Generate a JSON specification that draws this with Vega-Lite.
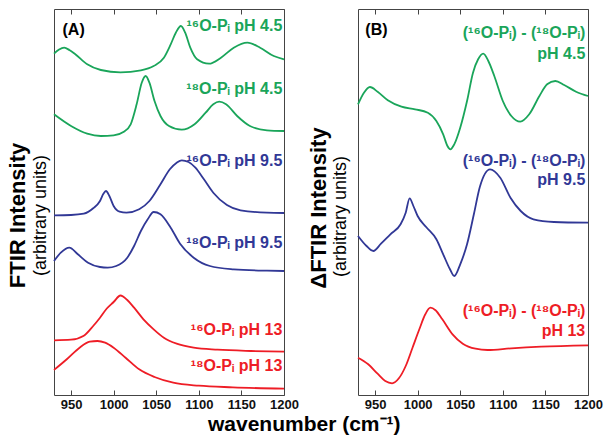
{
  "$schema": "https://vega.github.io/schema/vega-lite/v6.json",
  "padding": {"left": 5, "top": 8, "right": 5, "bottom": 5},
  "config": {
    "view": {"stroke": "#444", "strokeWidth": 1},
    "font": "Liberation Sans",
    "axis": {"grid": false, "labelFlush": false}
  },
  "title": {"text": "wavenumber (cm⁻¹)", "orient": "bottom", "anchor": "middle", "fontSize": 21, "fontWeight": "bold", "font": "Liberation Sans", "color": "#000", "offset": 2},
  "bounds": "flush",
  "spacing": 74,
  "datasets": {
    "curvesA": [
      {"s":"g16","x":930,"y":341.3},{"s":"g16","x":936,"y":345.5},{"s":"g16","x":942,"y":347.3},{"s":"g16","x":948,"y":345},{"s":"g16","x":955,"y":340.7},{"s":"g16","x":969,"y":330.7},{"s":"g16","x":985,"y":325},{"s":"g16","x":1008,"y":322.7},{"s":"g16","x":1032,"y":324.7},{"s":"g16","x":1047,"y":329},{"s":"g16","x":1059,"y":337.3},{"s":"g16","x":1067,"y":350.7},{"s":"g16","x":1073,"y":362.3},{"s":"g16","x":1079,"y":369},{"s":"g16","x":1084,"y":362.3},{"s":"g16","x":1090,"y":347.3},{"s":"g16","x":1098,"y":335.7},{"s":"g16","x":1112,"y":331.3},{"s":"g16","x":1126,"y":337.3},{"s":"g16","x":1141,"y":347.3},{"s":"g16","x":1157,"y":352.3},{"s":"g16","x":1172,"y":347.3},{"s":"g16","x":1188,"y":339},{"s":"g16","x":1200,"y":335.7},
      {"s":"g18","x":930,"y":280.7},{"s":"g18","x":950,"y":269},{"s":"g18","x":969,"y":261.3},{"s":"g18","x":985,"y":259},{"s":"g18","x":1000,"y":259.7},{"s":"g18","x":1012,"y":263.3},{"s":"g18","x":1020,"y":270.7},{"s":"g18","x":1027,"y":290.7},{"s":"g18","x":1033,"y":312.3},{"s":"g18","x":1037.6,"y":319},{"s":"g18","x":1042,"y":312.3},{"s":"g18","x":1048,"y":294},{"s":"g18","x":1055,"y":279},{"s":"g18","x":1065,"y":269},{"s":"g18","x":1080,"y":265.3},{"s":"g18","x":1095,"y":270.7},{"s":"g18","x":1108,"y":282.3},{"s":"g18","x":1117,"y":290.7},{"s":"g18","x":1124,"y":293.3},{"s":"g18","x":1132,"y":290.7},{"s":"g18","x":1145,"y":279},{"s":"g18","x":1160,"y":269},{"s":"g18","x":1180,"y":264.7},{"s":"g18","x":1200,"y":264},
      {"s":"b16","x":930,"y":179.7},{"s":"b16","x":950,"y":180},{"s":"b16","x":965,"y":181.3},{"s":"b16","x":976,"y":186.7},{"s":"b16","x":984,"y":194},{"s":"b16","x":988,"y":201.3},{"s":"b16","x":991,"y":204},{"s":"b16","x":995,"y":199},{"s":"b16","x":1000,"y":189},{"s":"b16","x":1007,"y":183.3},{"s":"b16","x":1015,"y":182.3},{"s":"b16","x":1030,"y":185.7},{"s":"b16","x":1042,"y":194},{"s":"b16","x":1055,"y":210.7},{"s":"b16","x":1066,"y":225.7},{"s":"b16","x":1074,"y":232.3},{"s":"b16","x":1080,"y":234.7},{"s":"b16","x":1088,"y":233},{"s":"b16","x":1096,"y":227.3},{"s":"b16","x":1106,"y":215.7},{"s":"b16","x":1117,"y":202.3},{"s":"b16","x":1133,"y":190},{"s":"b16","x":1149,"y":184.7},{"s":"b16","x":1180,"y":182.3},{"s":"b16","x":1200,"y":182},
      {"s":"b18","x":930,"y":134},{"s":"b18","x":938,"y":142.3},{"s":"b18","x":948,"y":147.3},{"s":"b18","x":958,"y":140.7},{"s":"b18","x":970,"y":132.3},{"s":"b18","x":984,"y":128},{"s":"b18","x":993,"y":127.3},{"s":"b18","x":1003,"y":129},{"s":"b18","x":1016,"y":137.3},{"s":"b18","x":1024,"y":149},{"s":"b18","x":1032,"y":164},{"s":"b18","x":1040,"y":175.7},{"s":"b18","x":1047,"y":183},{"s":"b18","x":1055,"y":180.7},{"s":"b18","x":1067,"y":167.3},{"s":"b18","x":1078,"y":151.3},{"s":"b18","x":1094,"y":137.3},{"s":"b18","x":1113,"y":129},{"s":"b18","x":1141,"y":125.7},{"s":"b18","x":1180,"y":124.3},{"s":"b18","x":1200,"y":124},
      {"s":"r16","x":930,"y":54.7},{"s":"r16","x":950,"y":55.3},{"s":"r16","x":965,"y":59.3},{"s":"r16","x":976,"y":69},{"s":"r16","x":984,"y":77.3},{"s":"r16","x":992,"y":86.5},{"s":"r16","x":1000,"y":93},{"s":"r16","x":1008,"y":99.5},{"s":"r16","x":1016,"y":95},{"s":"r16","x":1024,"y":87.3},{"s":"r16","x":1035,"y":75.7},{"s":"r16","x":1047,"y":65.7},{"s":"r16","x":1059,"y":57.3},{"s":"r16","x":1074,"y":51.3},{"s":"r16","x":1094,"y":47.3},{"s":"r16","x":1122,"y":45.3},{"s":"r16","x":1161,"y":44},{"s":"r16","x":1200,"y":43.3},
      {"s":"r18","x":930,"y":25},{"s":"r18","x":945,"y":35.7},{"s":"r18","x":960,"y":47.3},{"s":"r18","x":972,"y":53.3},{"s":"r18","x":981,"y":54},{"s":"r18","x":990,"y":52.3},{"s":"r18","x":1000,"y":47.3},{"s":"r18","x":1014,"y":37.3},{"s":"r18","x":1030,"y":25.7},{"s":"r18","x":1048,"y":18},{"s":"r18","x":1070,"y":12.3},{"s":"r18","x":1100,"y":9.3},{"s":"r18","x":1140,"y":7.7},{"s":"r18","x":1200,"y":6.3}
    ],
    "labelsA": [
      {"s":"g16","x":1198,"y":368.7,"t":"¹⁶O-Pᵢ pH 4.5"},
      {"s":"g18","x":1198,"y":305.7,"t":"¹⁸O-Pᵢ pH 4.5"},
      {"s":"b16","x":1198,"y":233.7,"t":"¹⁶O-Pᵢ pH 9.5"},
      {"s":"b18","x":1198,"y":152.3,"t":"¹⁸O-Pᵢ pH 9.5"},
      {"s":"r16","x":1198,"y":65.3,"t":"¹⁶O-Pᵢ pH 13"},
      {"s":"r18","x":1198,"y":28.7,"t":"¹⁸O-Pᵢ pH 13"}
    ],
    "panelA": [{"x":940,"y":365,"t":"(A)"}],
    "curvesB": [
      {"s":"dg","x":930,"y":290.7},{"s":"dg","x":937,"y":302.3},{"s":"dg","x":944,"y":308},{"s":"dg","x":953,"y":303.3},{"s":"dg","x":965,"y":294.7},{"s":"dg","x":981,"y":288.3},{"s":"dg","x":997,"y":285.7},{"s":"dg","x":1012,"y":282.3},{"s":"dg","x":1022,"y":274},{"s":"dg","x":1030,"y":260.7},{"s":"dg","x":1035,"y":249},{"s":"dg","x":1038.5,"y":245.7},{"s":"dg","x":1043,"y":250.7},{"s":"dg","x":1050,"y":267.3},{"s":"dg","x":1058,"y":294},{"s":"dg","x":1065,"y":322.3},{"s":"dg","x":1071,"y":335.7},{"s":"dg","x":1077,"y":341.3},{"s":"dg","x":1083,"y":334},{"s":"dg","x":1090,"y":319},{"s":"dg","x":1100,"y":294},{"s":"dg","x":1110,"y":279},{"s":"dg","x":1120.5,"y":273.3},{"s":"dg","x":1131,"y":280.7},{"s":"dg","x":1143,"y":299},{"s":"dg","x":1152,"y":310.7},{"s":"dg","x":1161.6,"y":314},{"s":"dg","x":1172,"y":310},{"s":"dg","x":1186,"y":303.3},{"s":"dg","x":1200,"y":299},
      {"s":"db","x":930,"y":159},{"s":"db","x":940,"y":149},{"s":"db","x":948,"y":144},{"s":"db","x":957,"y":151.3},{"s":"db","x":968,"y":160.7},{"s":"db","x":980,"y":170.7},{"s":"db","x":986,"y":182.3},{"s":"db","x":990.6,"y":196.7},{"s":"db","x":995,"y":189},{"s":"db","x":1000,"y":179},{"s":"db","x":1010,"y":168},{"s":"db","x":1022,"y":155.7},{"s":"db","x":1030,"y":140.7},{"s":"db","x":1038,"y":125.7},{"s":"db","x":1043,"y":119},{"s":"db","x":1050,"y":130.7},{"s":"db","x":1058,"y":150.7},{"s":"db","x":1066,"y":180.7},{"s":"db","x":1073,"y":208},{"s":"db","x":1085,"y":225.7},{"s":"db","x":1097,"y":217.3},{"s":"db","x":1109,"y":197.3},{"s":"db","x":1121,"y":184},{"s":"db","x":1136,"y":175.7},{"s":"db","x":1160,"y":173},{"s":"db","x":1200,"y":172.3},
      {"s":"dr","x":930,"y":37.3},{"s":"dr","x":942,"y":30.7},{"s":"dr","x":953,"y":21.3},{"s":"dr","x":962,"y":14},{"s":"dr","x":970,"y":11.7},{"s":"dr","x":978,"y":16.7},{"s":"dr","x":986,"y":29},{"s":"dr","x":994,"y":47.3},{"s":"dr","x":1002,"y":65.7},{"s":"dr","x":1009,"y":80.7},{"s":"dr","x":1015,"y":87.3},{"s":"dr","x":1021,"y":84.7},{"s":"dr","x":1029,"y":75.7},{"s":"dr","x":1041,"y":60.7},{"s":"dr","x":1053,"y":51.3},{"s":"dr","x":1068,"y":46.3},{"s":"dr","x":1082,"y":45},{"s":"dr","x":1110,"y":46.7},{"s":"dr","x":1145,"y":48.3},{"s":"dr","x":1200,"y":49.7}
    ],
    "labelsB": [
      {"s":"dg","x":1196.8,"y":362.3,"t":"(¹⁶O-Pᵢ) - (¹⁸O-Pᵢ)"},
      {"s":"dg","x":1196.8,"y":340.7,"t":"pH 4.5"},
      {"s":"db","x":1196.8,"y":233.7,"t":"(¹⁶O-Pᵢ) - (¹⁸O-Pᵢ)"},
      {"s":"db","x":1196.8,"y":215,"t":"pH 9.5"},
      {"s":"dr","x":1196.8,"y":83.7,"t":"(¹⁶O-Pᵢ) - (¹⁸O-Pᵢ)"},
      {"s":"dr","x":1196.8,"y":64,"t":"pH 13"}
    ],
    "panelB": [{"x":938.6,"y":365,"t":"(B)"}]
  },
  "hconcat": [
    {
      "width": 230,
      "height": 386,
      "layer": [
        {
          "data": {"name": "curvesA"},
          "mark": {"type": "line", "interpolate": "monotone", "strokeWidth": 1.8},
          "encoding": {
            "x": {"field": "x", "type": "quantitative", "scale": {"domain": [930, 1200], "nice": false, "zero": false},
              "axis": {"orient": "bottom", "values": [950, 1000, 1050, 1100, 1150, 1200], "format": "d", "labelOverlap": false, "labelFlush": false, "title": null, "domain": false, "tickSize": -5, "tickColor": "#444", "labelPadding": 8, "labelFontSize": 13, "labelFontWeight": "bold", "labelColor": "#111", "labelFont": "Liberation Sans"}},
            "y": {"field": "y", "type": "quantitative", "scale": {"domain": [0, 386], "nice": false, "zero": false},
              "axis": {"orient": "left", "title": "FTIR Intensity", "labels": false, "ticks": false, "domain": false, "titleFontSize": 22, "titleFontWeight": "bold", "titleColor": "#000", "titleFont": "Liberation Sans", "titleX": -37, "titleY": 206, "titleAngle": -90, "titleBaseline": "middle", "titleAlign": "center"}},
            "color": {"field": "s", "type": "nominal", "scale": {"domain": ["g16","g18","b16","b18","r16","r18","dg","db","dr"], "range": ["#1aa55a","#1aa55a","#313896","#313896","#ee1d26","#ee1d26","#1aa55a","#313896","#ee1d26"]}, "legend": null}
          }
        },
        {
          "data": {"name": "labelsA"},
          "mark": {"type": "text", "align": "right", "baseline": "middle", "fontSize": 16, "fontWeight": "bold", "font": "Liberation Sans"},
          "encoding": {
            "x": {"field": "x", "type": "quantitative", "scale": {"domain": [930, 1200], "nice": false, "zero": false},
              "axis": {"orient": "top", "values": [950, 1000, 1050, 1100, 1150, 1200], "title": null, "labels": false, "domain": false, "tickSize": -5, "tickColor": "#444"}},
            "y": {"field": "y", "type": "quantitative", "scale": {"domain": [0, 386], "nice": false, "zero": false},
              "axis": {"orient": "left", "title": "(arbitrary units)", "labels": false, "ticks": false, "domain": false, "titleFontSize": 18, "titleFontWeight": "normal", "titleColor": "#000", "titleFont": "Liberation Sans", "titleX": -13.3, "titleY": 206, "titleAngle": -90, "titleBaseline": "middle", "titleAlign": "center"}},
            "text": {"field": "t"},
            "color": {"field": "s", "type": "nominal", "scale": {"domain": ["g16","g18","b16","b18","r16","r18","dg","db","dr"], "range": ["#1aa55a","#1aa55a","#313896","#313896","#ee1d26","#ee1d26","#1aa55a","#313896","#ee1d26"]}, "legend": null}
          }
        },
        {
          "data": {"name": "panelA"},
          "mark": {"type": "text", "align": "left", "baseline": "middle", "fontSize": 16, "fontWeight": "bold", "font": "Liberation Sans", "color": "#000"},
          "encoding": {
            "x": {"field": "x", "type": "quantitative", "axis": null},
            "y": {"field": "y", "type": "quantitative", "axis": null},
            "text": {"field": "t"}
          }
        }
      ],
      "resolve": {"axis": {"x": "independent", "y": "independent"}}
    },
    {
      "width": 230,
      "height": 386,
      "layer": [
        {
          "data": {"name": "curvesB"},
          "mark": {"type": "line", "interpolate": "monotone", "strokeWidth": 1.8},
          "encoding": {
            "x": {"field": "x", "type": "quantitative", "scale": {"domain": [930, 1200], "nice": false, "zero": false},
              "axis": {"orient": "bottom", "values": [950, 1000, 1050, 1100, 1150, 1200], "format": "d", "labelOverlap": false, "labelFlush": false, "title": null, "domain": false, "tickSize": -5, "tickColor": "#444", "labelPadding": 8, "labelFontSize": 13, "labelFontWeight": "bold", "labelColor": "#111", "labelFont": "Liberation Sans"}},
            "y": {"field": "y", "type": "quantitative", "scale": {"domain": [0, 386], "nice": false, "zero": false},
              "axis": {"orient": "left", "title": "ΔFTIR Intensity", "labels": false, "ticks": false, "domain": false, "titleFontSize": 22, "titleFontWeight": "bold", "titleColor": "#000", "titleFont": "Liberation Sans", "titleX": -39.7, "titleY": 198.5, "titleAngle": -90, "titleBaseline": "middle", "titleAlign": "center"}},
            "color": {"field": "s", "type": "nominal", "scale": {"domain": ["g16","g18","b16","b18","r16","r18","dg","db","dr"], "range": ["#1aa55a","#1aa55a","#313896","#313896","#ee1d26","#ee1d26","#1aa55a","#313896","#ee1d26"]}, "legend": null}
          }
        },
        {
          "data": {"name": "labelsB"},
          "mark": {"type": "text", "align": "right", "baseline": "middle", "fontSize": 16, "fontWeight": "bold", "font": "Liberation Sans"},
          "encoding": {
            "x": {"field": "x", "type": "quantitative", "scale": {"domain": [930, 1200], "nice": false, "zero": false},
              "axis": {"orient": "top", "values": [950, 1000, 1050, 1100, 1150, 1200], "title": null, "labels": false, "domain": false, "tickSize": -5, "tickColor": "#444"}},
            "y": {"field": "y", "type": "quantitative", "scale": {"domain": [0, 386], "nice": false, "zero": false},
              "axis": {"orient": "left", "title": "(arbitrary units)", "labels": false, "ticks": false, "domain": false, "titleFontSize": 18, "titleFontWeight": "normal", "titleColor": "#000", "titleFont": "Liberation Sans", "titleX": -17.7, "titleY": 207, "titleAngle": -90, "titleBaseline": "middle", "titleAlign": "center"}},
            "text": {"field": "t"},
            "color": {"field": "s", "type": "nominal", "scale": {"domain": ["g16","g18","b16","b18","r16","r18","dg","db","dr"], "range": ["#1aa55a","#1aa55a","#313896","#313896","#ee1d26","#ee1d26","#1aa55a","#313896","#ee1d26"]}, "legend": null}
          }
        },
        {
          "data": {"name": "panelB"},
          "mark": {"type": "text", "align": "left", "baseline": "middle", "fontSize": 16, "fontWeight": "bold", "font": "Liberation Sans", "color": "#000"},
          "encoding": {
            "x": {"field": "x", "type": "quantitative", "axis": null},
            "y": {"field": "y", "type": "quantitative", "axis": null},
            "text": {"field": "t"}
          }
        }
      ],
      "resolve": {"axis": {"x": "independent", "y": "independent"}}
    }
  ]
}
